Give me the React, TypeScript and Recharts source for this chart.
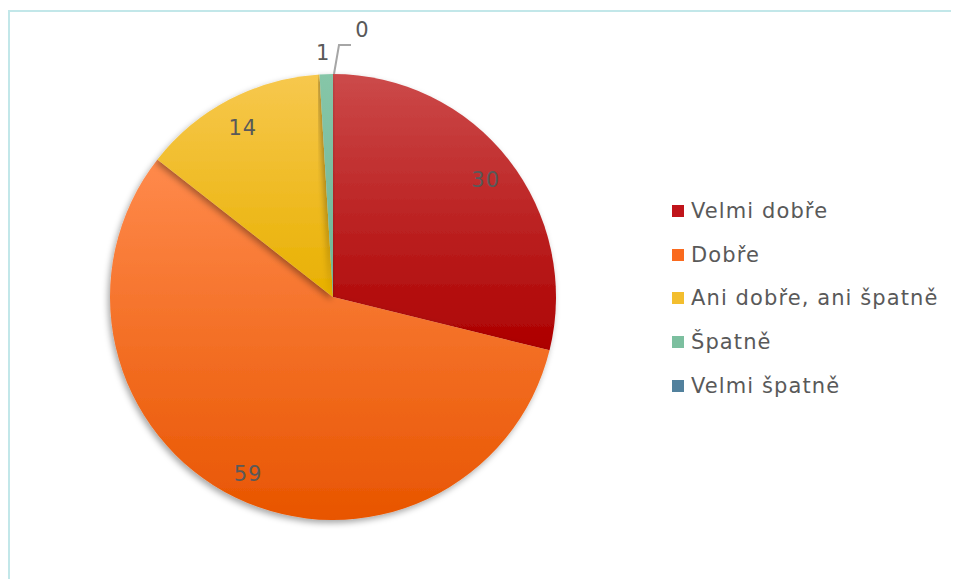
// @ts-nocheck
import React from "react"
import { PieChart, Pie, Cell, Legend } from "recharts"

// categories and values
const categories = ["Velmi dobře", "Dobře", "Ani dobře, ani špatně", "Špatně", "Velmi špatně"]
const values = [30, 59, 14, 1, 0]

// gradient stops (light top, dark bottom) per slice
const lightColors = ["#cc4a4a", "#ff8a4c", "#f7c84e", "#86c6a8", "#5f8fab"]
const darkColors = ["#ad0000", "#e85500", "#e8b000", "#6fb596", "#44728f"]
const swatch = ["#c0141a", "#fa6a1e", "#f3be2e", "#7cbf9f", "#52819d"]

const data = categories.map((name, i) => ({ name, value: values[i] }))

const FONT = "'DejaVu Sans', sans-serif"
const TEXT = "#595959"

const renderLabel = (props: any) => {
    const { cx, cy, midAngle, outerRadius, value, index } = props
    const RAD = Math.PI / 180
    if (index < 3) {
        const r = outerRadius * 0.87
        const x = cx + r * Math.cos(-midAngle * RAD)
        const y = cy + r * Math.sin(-midAngle * RAD)
        return (
            <text x={x} y={y + 3} fill={TEXT} fontSize={21} fontFamily={FONT} letterSpacing={1}
                textAnchor="middle" dominantBaseline="central">{value}</text>
        )
    }
    if (index === 3) {
        const r = outerRadius + 22
        const x = cx + r * Math.cos(-midAngle * RAD) - 3
        const y = cy + r * Math.sin(-midAngle * RAD)
        return (
            <text x={x} y={y + 1} fill={TEXT} fontSize={21} fontFamily={FONT}
                textAnchor="middle" dominantBaseline="central">{value}</text>
        )
    }
    // zero slice: leader line up and to the right
    const x0 = cx + outerRadius * Math.cos(-midAngle * RAD)
    const y0 = cy + outerRadius * Math.sin(-midAngle * RAD)
    return (
        <g>
            <polyline points={`${x0 + 1},${y0} ${x0 + 6},${y0 - 29} ${x0 + 18},${y0 - 29}`}
                fill="none" stroke="#a6a6a6" strokeWidth={2} />
            <text x={x0 + 29} y={y0 - 44} fill={TEXT} fontSize={21} fontFamily={FONT}
                textAnchor="middle" dominantBaseline="central">{value}</text>
        </g>
    )
}

const renderLegend = () => (
    <div style={{ fontFamily: FONT }}>
        {categories.map((c, i) => (
            <div key={c} style={{ display: "flex", alignItems: "center", height: 43.7 }}>
                <span style={{ width: 12, height: 12, background: swatch[i], marginRight: 7 }} />
                <span style={{ fontSize: 21, color: TEXT, letterSpacing: 1.1 }}>{c}</span>
            </div>
        ))}
    </div>
)

export default function App() {
    return (
        <div style={{ position: "relative", top: 2, width: 951, height: 571 }}>
            <div style={{
                position: "absolute", left: 0, top: 0, width: 951, height: 571,
                borderLeft: "2px solid #c2e7e9", borderTop: "2px solid #c2e7e9",
                boxSizing: "border-box"
            }} />
            <PieChart width={951} height={571} margin={{ top: 0, right: 0, bottom: 0, left: 0 }}
                style={{ position: "absolute", left: 0, top: 0 }}>
                <defs>
                    {lightColors.map((c, i) => (
                        <linearGradient key={i} id={`g${i}`} x1="0" y1="0" x2="0" y2="1">
                            <stop offset="0%" stopColor={c} />
                            <stop offset="100%" stopColor={darkColors[i]} />
                        </linearGradient>
                    ))}
                    <filter id="shadow" x="-10%" y="-10%" width="120%" height="120%">
                        <feDropShadow dx="-2" dy="3" stdDeviation="3" floodColor="#000" floodOpacity="0.35" />
                    </filter>
                </defs>
                <Pie
                    data={data}
                    dataKey="value"
                    nameKey="name"
                    cx={325}
                    cy={287}
                    outerRadius={223}
                    startAngle={90}
                    endAngle={-270}
                    stroke="none"
                    label={renderLabel}
                    labelLine={false}
                    isAnimationActive={false}
                    style={{ filter: "url(#shadow)" }}
                >
                    {data.map((d, i) => (
                        <Cell key={d.name} fill={`url(#g${i})`} />
                    ))}
                </Pie>
                <Legend
                    content={renderLegend}
                    wrapperStyle={{ position: "absolute", left: 664, top: 179, width: 290 }}
                />
            </PieChart>
        </div>
    )
}
